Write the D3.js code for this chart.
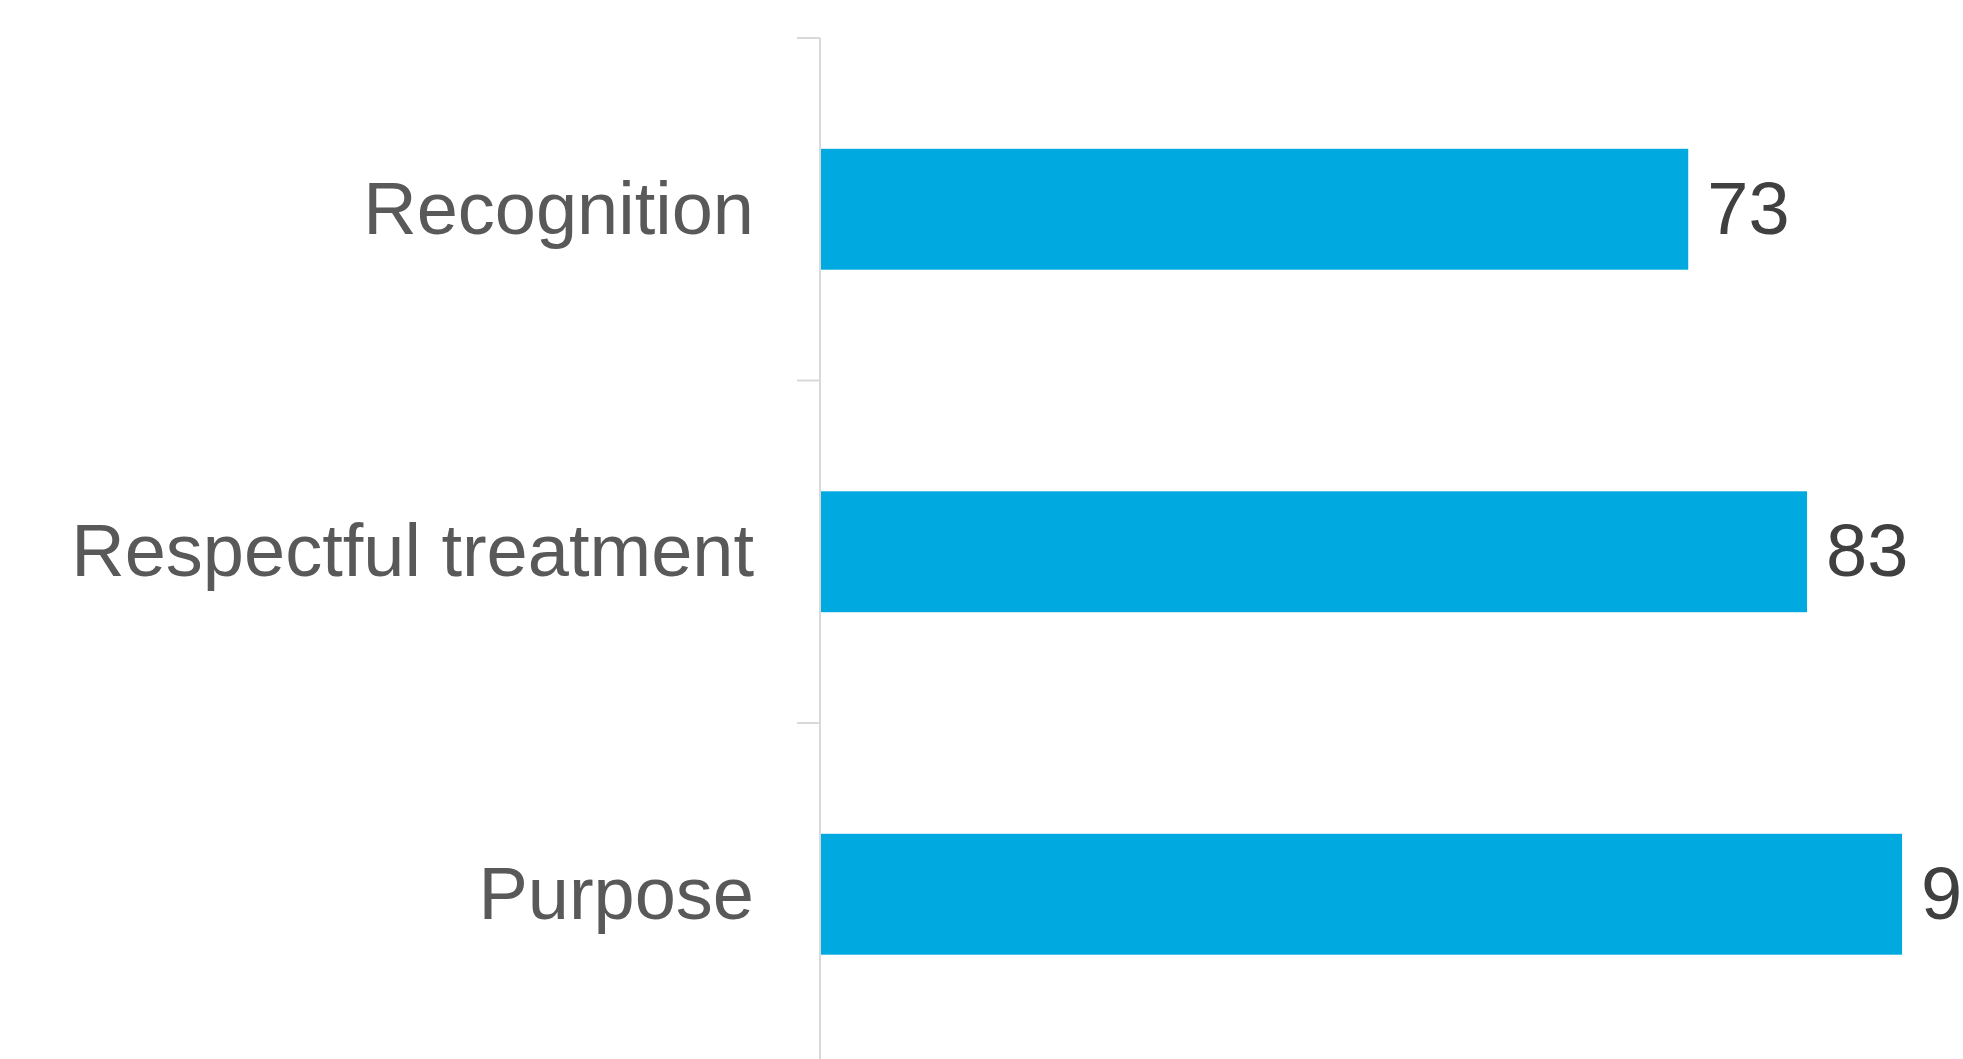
<!DOCTYPE html>
<html>
<head>
<meta charset="utf-8">
<script src="https://cdn.jsdelivr.net/npm/d3@7"></script>
<style>
  html, body { margin: 0; padding: 0; background: #ffffff; overflow: hidden; }
  svg { display: block; }
</style>
</head>
<body>
<svg id="chart" width="1963" height="1059"></svg>
<script>
// Scores per category
const categories = ["Recognition", "Respectful treatment", "Purpose"];
const scores = [73, 83, 91];

const W = 1963, H = 1059;
const axisX = 820;
const svg = d3.select("#chart").attr("width", W).attr("height", H);

// Horizontal value scale
const x = d3.scaleLinear().domain([0, 100]).range([axisX + 1, axisX + 1 + 1188]);

// Category bands (boundaries are where the separator ticks sit)
const y = d3.scaleBand().domain(categories).range([38, 38 + 3 * 342.5]).padding(0);
const barH = y.bandwidth() * 0.353;

// Axis line and separator ticks
svg.append("line")
  .attr("x1", axisX).attr("x2", axisX)
  .attr("y1", 38).attr("y2", H)
  .attr("stroke", "#d9d9d9").attr("stroke-width", 2);

svg.selectAll("line.sep")
  .data(categories)
  .join("line")
  .attr("class", "sep")
  .attr("x1", axisX - 23).attr("x2", axisX)
  .attr("y1", d => y(d)).attr("y2", d => y(d))
  .attr("stroke", "#d9d9d9").attr("stroke-width", 2);

// Bars
const rows = categories.map((c, i) => ({ c, v: scores[i] }));

svg.selectAll("rect.bar")
  .data(rows)
  .join("rect")
  .attr("class", "bar")
  .attr("x", x(0))
  .attr("y", d => y(d.c) + (y.bandwidth() - barH) / 2)
  .attr("width", d => x(d.v) - x(0))
  .attr("height", barH)
  .attr("fill", "#00a9df");

// Category labels
svg.selectAll("text.cat")
  .data(rows)
  .join("text")
  .attr("class", "cat")
  .attr("x", axisX - 66)
  .attr("y", d => y(d.c) + y.bandwidth() / 2)
  .attr("dy", "0.33em")
  .attr("text-anchor", "end")
  .attr("font-family", "'Liberation Sans', Arial, sans-serif")
  .attr("font-size", 74)
  .attr("fill", "#595959")
  .text(d => d.c);

// Value labels (the last one runs past the right edge of the drawing)
svg.selectAll("text.val")
  .data(rows)
  .join("text")
  .attr("class", "val")
  .attr("x", d => x(d.v) + 19)
  .attr("y", d => y(d.c) + y.bandwidth() / 2)
  .attr("dy", "0.33em")
  .attr("font-family", "'Liberation Sans', Arial, sans-serif")
  .attr("font-size", 74)
  .attr("fill", "#404040")
  .text(d => d.v);
</script>
</body>
</html>
